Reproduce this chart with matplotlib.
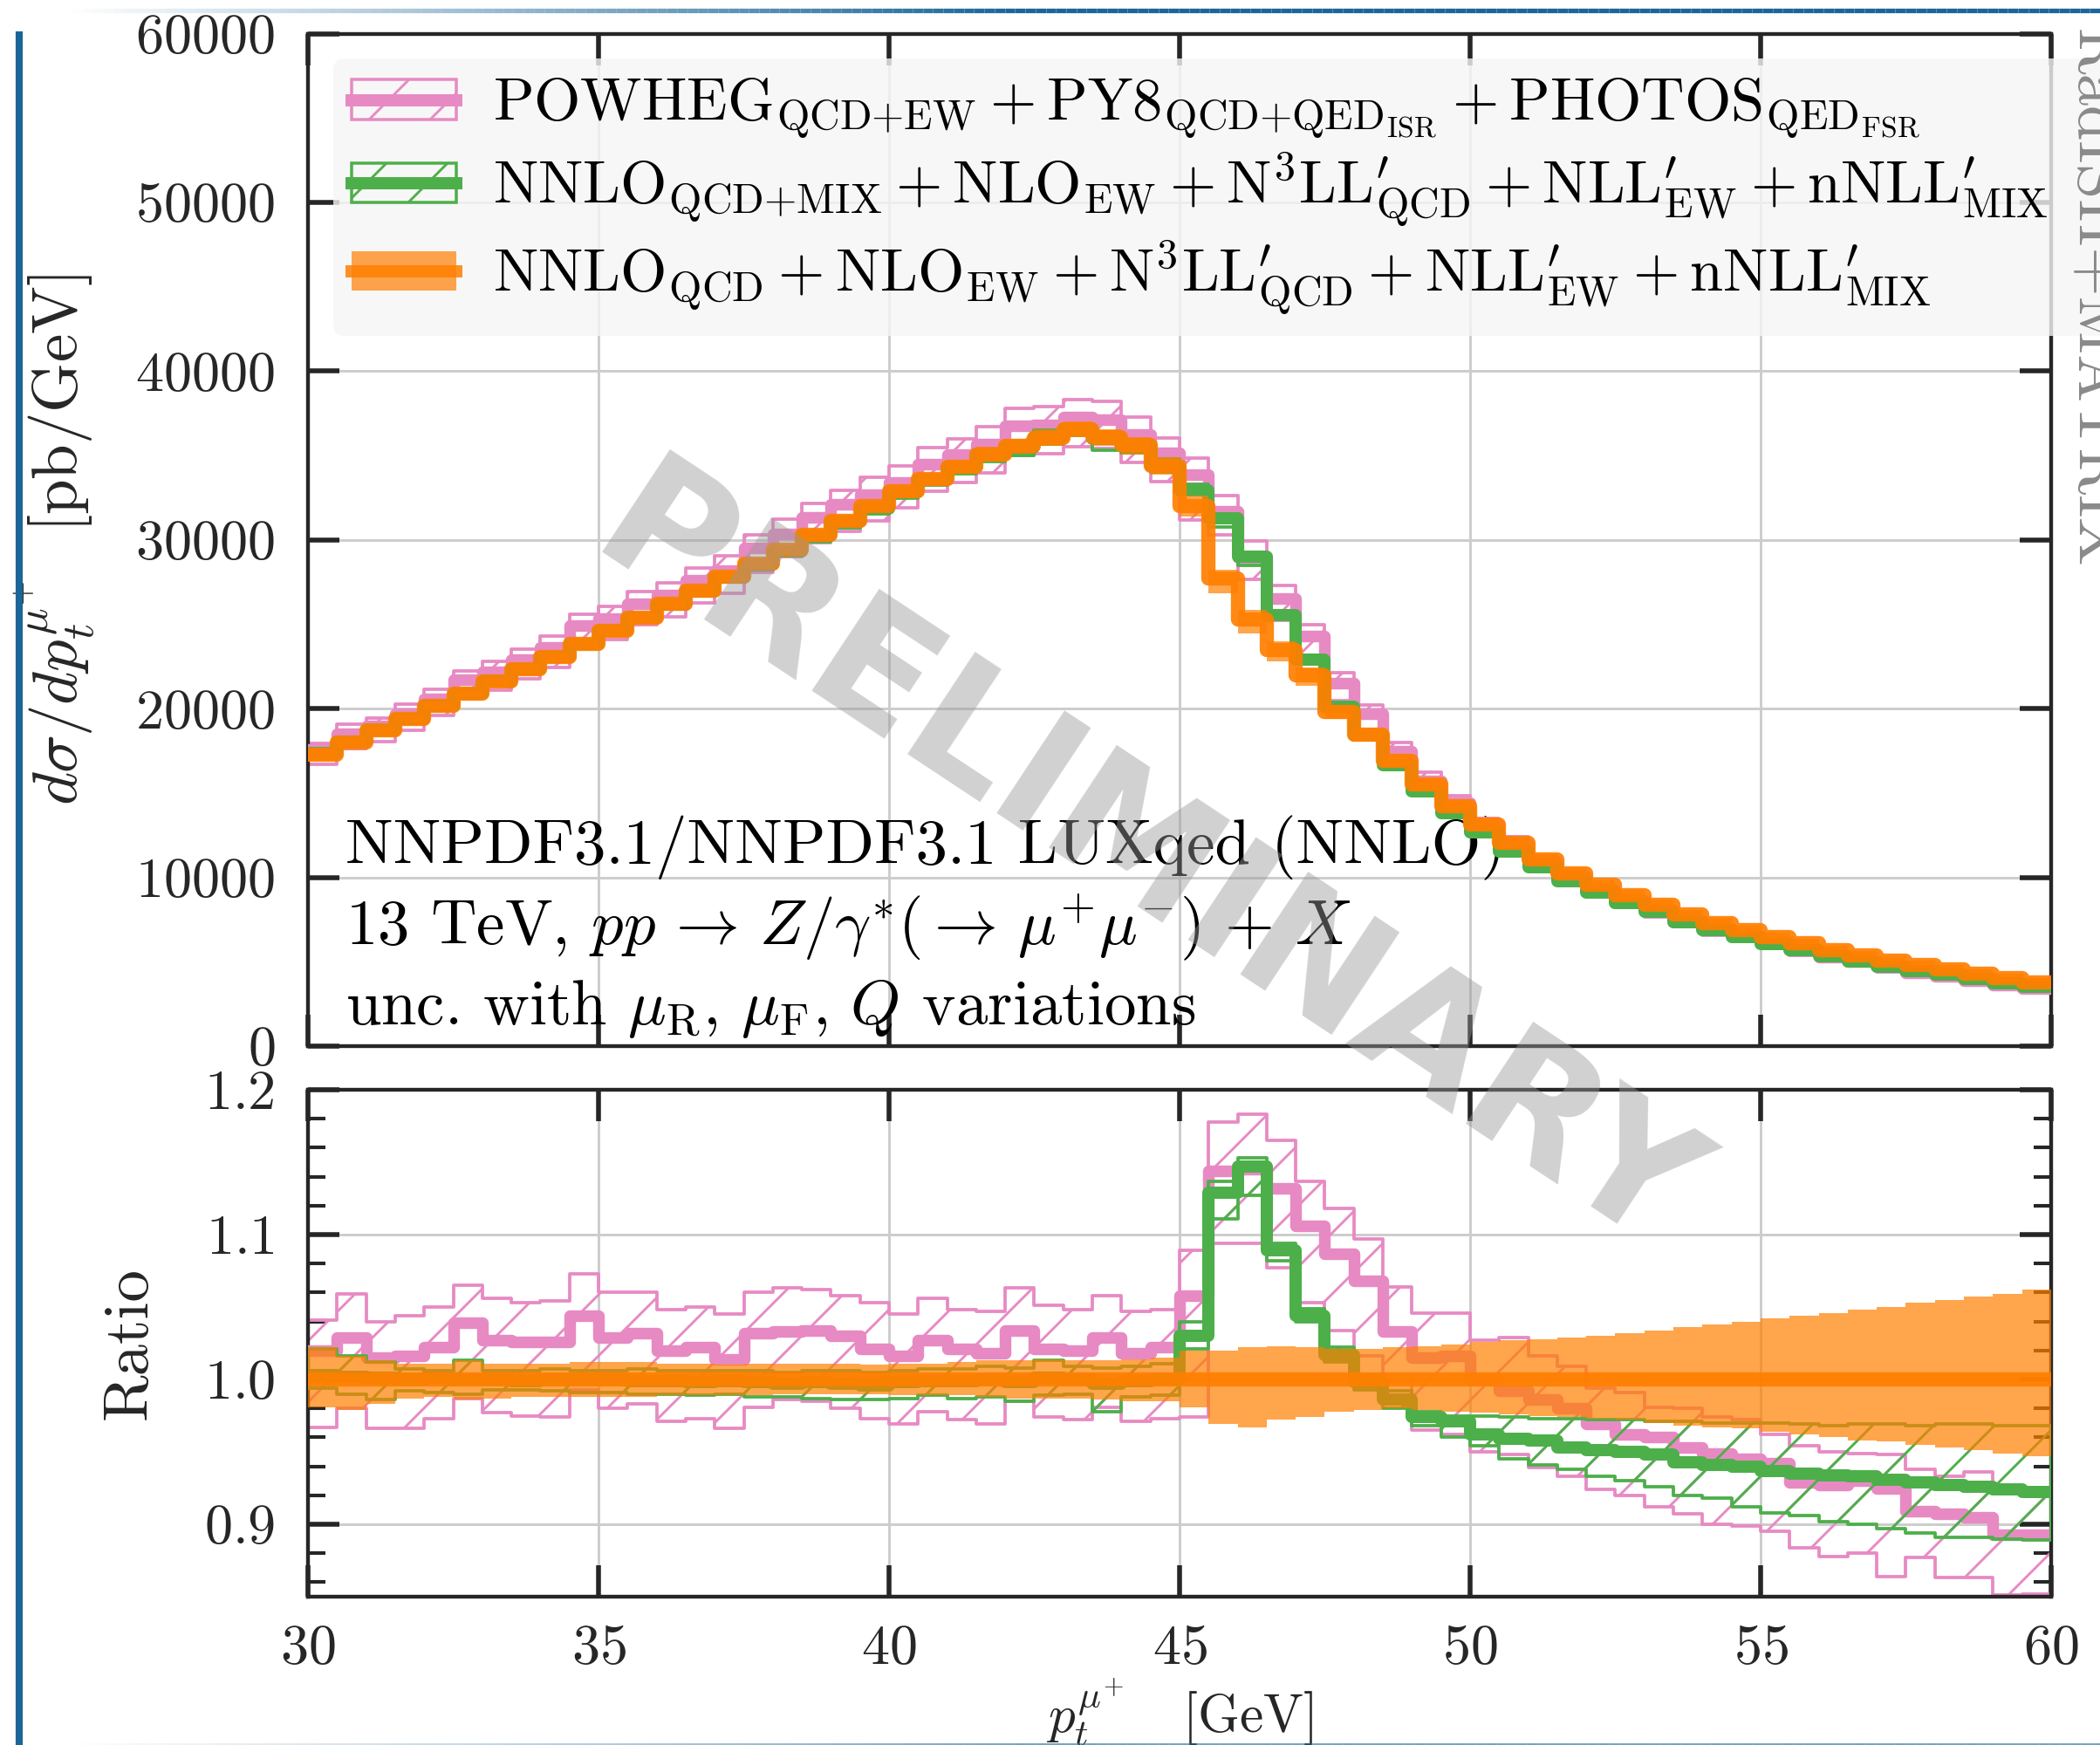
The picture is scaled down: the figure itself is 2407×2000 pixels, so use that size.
import numpy as np
import matplotlib
matplotlib.use("Agg")
import matplotlib.pyplot as plt
from matplotlib.patches import Patch
from matplotlib.lines import Line2D
from matplotlib.collections import LineCollection
from matplotlib.ticker import MultipleLocator

W, H, DPI = 2407, 2000, 210

plt.rcParams.update({
    "font.family": "serif",
    "font.serif": ["cmr10"],
    "mathtext.fontset": "cm",
    "axes.formatter.use_mathtext": True,
    "hatch.linewidth": 1.0,
})

# ---------------------------------------------------------------- data
# p_t bins [GeV]
edges = np.arange(30.0, 60.01, 0.5)

# NNLO_QCD + NLO_EW + N3LL' central prediction [pb/GeV]
orange_xsec = [
    17250, 18000, 18700, 19400, 20150, 20900, 21600, 22350, 23050, 23850,
    24600, 25400, 26200, 27000, 27800, 28600, 29400, 30300, 31150, 32000,
    32900, 33600, 34350, 35050, 35550, 36050, 36550, 36100, 35600, 34400,
    32000, 27700, 25300, 23450, 21950, 19800, 18450, 16900, 15500, 14200,
    13150, 12050, 11050, 10250, 9550, 8950, 8400, 7800, 7300, 6880,
    6450, 6100, 5700, 5400, 5080, 4800, 4550, 4300, 4050, 3800,
]
# scale-variation band of the reference prediction (ratio to its central value)
orange_hi = [
    1.022, 1.016, 1.013, 1.011, 1.011, 1.013, 1.011, 1.011, 1.011, 1.012,
    1.012, 1.012, 1.011, 1.011, 1.010, 1.011, 1.011, 1.011, 1.011, 1.010,
    1.011, 1.011, 1.012, 1.013, 1.013, 1.014, 1.013, 1.013, 1.014, 1.015,
    1.020, 1.020, 1.022, 1.023, 1.022, 1.021, 1.021, 1.022, 1.023, 1.024,
    1.026, 1.027, 1.028, 1.029, 1.030, 1.032, 1.034, 1.036, 1.038, 1.040,
    1.042, 1.044, 1.046, 1.048, 1.050, 1.053, 1.055, 1.057, 1.059, 1.062,
]
orange_lo = [
    0.981, 0.979, 0.983, 0.987, 0.988, 0.986, 0.987, 0.988, 0.988, 0.988,
    0.988, 0.988, 0.989, 0.989, 0.989, 0.989, 0.990, 0.990, 0.990, 0.990,
    0.989, 0.989, 0.989, 0.988, 0.987, 0.987, 0.987, 0.986, 0.985, 0.985,
    0.981, 0.969, 0.967, 0.972, 0.974, 0.978, 0.979, 0.980, 0.979, 0.978,
    0.977, 0.976, 0.975, 0.974, 0.973, 0.972, 0.970, 0.968, 0.967, 0.966,
    0.964, 0.962, 0.960, 0.958, 0.957, 0.955, 0.953, 0.951, 0.949, 0.947,
]

# NNLO_QCD+MIX prediction, ratio to the reference
green_c = [
    1.003, 1.002, 1.001, 1.000, 1.001, 1.000, 1.000, 0.999, 1.000, 1.000,
    1.000, 0.999, 0.999, 0.998, 0.999, 0.998, 0.997, 0.998, 0.997, 0.996,
    0.998, 0.999, 0.999, 1.000, 0.998, 1.001, 1.000, 0.997, 0.999, 1.000,
    1.030, 1.129, 1.147, 1.089, 1.044, 1.017, 0.998, 0.986, 0.974, 0.971,
    0.962, 0.959, 0.958, 0.953, 0.951, 0.950, 0.948, 0.943, 0.941, 0.940,
    0.937, 0.935, 0.934, 0.933, 0.931, 0.929, 0.927, 0.926, 0.924, 0.922,
]
green_hi = [
    1.021, 1.016, 1.012, 1.007, 1.006, 1.013, 1.006, 1.006, 1.007, 1.006,
    1.006, 1.007, 1.006, 1.006, 1.006, 1.006, 1.005, 1.006, 1.006, 1.005,
    1.006, 1.007, 1.007, 1.009, 1.008, 1.013, 1.009, 1.008, 1.009, 1.011,
    1.040, 1.137, 1.153, 1.094, 1.049, 1.022, 1.003, 0.992, 0.978, 0.975,
    0.975, 0.974, 0.973, 0.973, 0.972, 0.972, 0.971, 0.971, 0.970, 0.970,
    0.970, 0.969, 0.968, 0.969, 0.969, 0.968, 0.969, 0.969, 0.968, 0.968,
]
green_lo = [
    0.994, 0.990, 0.986, 0.992, 0.991, 0.990, 0.993, 0.993, 0.992, 0.991,
    0.991, 0.990, 0.990, 0.989, 0.990, 0.988, 0.988, 0.987, 0.986, 0.986,
    0.987, 0.989, 0.987, 0.988, 0.985, 0.989, 0.990, 0.978, 0.988, 0.989,
    1.021, 1.111, 1.127, 1.082, 1.040, 1.012, 0.993, 0.980, 0.968, 0.960,
    0.954, 0.945, 0.941, 0.938, 0.933, 0.930, 0.926, 0.920, 0.918, 0.912,
    0.908, 0.906, 0.902, 0.900, 0.897, 0.894, 0.891, 0.891, 0.890, 0.889,
]

# POWHEG+PY8+PHOTOS prediction, ratio to the reference
pink_c = [
    1.020, 1.029, 1.015, 1.016, 1.022, 1.039, 1.027, 1.026, 1.026, 1.044,
    1.029, 1.032, 1.020, 1.022, 1.014, 1.032, 1.033, 1.034, 1.030, 1.021,
    1.016, 1.027, 1.021, 1.018, 1.034, 1.021, 1.020, 1.029, 1.018, 1.022,
    1.058, 1.144, 1.145, 1.132, 1.106, 1.087, 1.068, 1.033, 1.015, 1.016,
    1.000, 0.992, 0.986, 0.980, 0.969, 0.962, 0.960, 0.953, 0.949, 0.945,
    0.942, 0.929, 0.927, 0.930, 0.925, 0.909, 0.907, 0.905, 0.893, 0.893,
]
pink_hi = [
    1.041, 1.059, 1.040, 1.044, 1.050, 1.065, 1.056, 1.053, 1.054, 1.073,
    1.060, 1.060, 1.048, 1.050, 1.045, 1.060, 1.063, 1.062, 1.058, 1.053,
    1.045, 1.056, 1.048, 1.047, 1.063, 1.051, 1.048, 1.058, 1.047, 1.048,
    1.089, 1.178, 1.183, 1.165, 1.137, 1.118, 1.097, 1.064, 1.046, 1.046,
    1.027, 1.029, 1.016, 1.009, 0.994, 0.991, 0.981, 0.980, 0.974, 0.972,
    0.962, 0.954, 0.950, 0.949, 0.948, 0.938, 0.933, 0.936, 0.923, 0.920,
]
pink_lo = [
    0.967, 0.980, 0.966, 0.966, 0.973, 0.987, 0.977, 0.975, 0.974, 0.993,
    0.980, 0.983, 0.971, 0.973, 0.966, 0.981, 0.986, 0.985, 0.980, 0.973,
    0.969, 0.978, 0.972, 0.969, 0.985, 0.974, 0.972, 0.981, 0.971, 0.973,
    0.974, 1.094, 1.094, 1.077, 1.053, 1.034, 1.016, 1.000, 0.965, 0.962,
    0.950, 0.948, 0.939, 0.933, 0.924, 0.920, 0.912, 0.907, 0.900, 0.899,
    0.895, 0.884, 0.878, 0.880, 0.864, 0.877, 0.863, 0.863, 0.851, 0.852,
]

labels = [
    r"$\mathrm{POWHEG}_{\mathrm{QCD{+}EW}}+\mathrm{PY8}_{\mathrm{QCD{+}QED_{ISR}}}"
    r"+\mathrm{PHOTOS}_{\mathrm{QED_{FSR}}}$",
    r"$\mathrm{NNLO}_{\mathrm{QCD{+}MIX}}+\mathrm{NLO}_{\mathrm{EW}}"
    r"+\mathrm{N}^{3}\mathrm{LL}^{\prime}_{\mathrm{QCD}}"
    r"+\mathrm{NLL}^{\prime}_{\mathrm{EW}}+\mathrm{nNLL}^{\prime}_{\mathrm{MIX}}$",
    r"$\mathrm{NNLO}_{\mathrm{QCD}}+\mathrm{NLO}_{\mathrm{EW}}"
    r"+\mathrm{N}^{3}\mathrm{LL}^{\prime}_{\mathrm{QCD}}"
    r"+\mathrm{NLL}^{\prime}_{\mathrm{EW}}+\mathrm{nNLL}^{\prime}_{\mathrm{MIX}}$",
]
info_lines = [
    "NNPDF3.1/NNPDF3.1 LUXqed (NNLO)",
    r"13 TeV, $pp\,\rightarrow\,Z/\gamma^{*}(\rightarrow\,\mu^{+}\mu^{-})\,+\,X$",
    r"unc. with $\mu_{\mathrm{R}},\,\mu_{\mathrm{F}},\,Q$ variations",
]

PINK, GREEN, ORANGE = "#e78ac3", "#4daf4a", "#ff7f00"
INK = "#262626"
FS_TICK = 22
FS_TEXT = 25


def steps(vals):
    xs = np.repeat(edges, 2)[1:-1]
    ys = np.repeat(np.asarray(vals, float), 2)
    return xs, ys


def draw_panel(ax, norm):
    norm = np.asarray(norm, float)
    x, _ = steps(norm)

    def s(v):
        return steps(np.asarray(v, float) * norm)[1]

    ax.fill_between(x, s(pink_lo), s(pink_hi), facecolor="none",
                    edgecolor=PINK, hatch="/", lw=1.3, zorder=2)
    ax.plot(x, s(pink_c), color=PINK, lw=4.6, zorder=3)
    ax.fill_between(x, s(green_lo), s(green_hi), facecolor="none",
                    edgecolor=GREEN, hatch="/", lw=1.3, zorder=4)
    ax.plot(x, s(green_c), color=GREEN, lw=4.8, zorder=5)
    ax.fill_between(x, s(orange_lo), s(orange_hi), facecolor=ORANGE,
                    edgecolor="none", lw=0, alpha=0.7, zorder=6)
    ax.plot(x, s(np.ones(len(norm))), color=ORANGE, lw=5.6, alpha=0.92,
            zorder=7)


def style(ax):
    ax.set_xlim(30, 60)
    ax.xaxis.set_major_locator(MultipleLocator(5))
    ax.grid(True, which="major", color="#cccccc", lw=1.0)
    ax.set_axisbelow(True)
    for sp in ax.spines.values():
        sp.set_linewidth(1.5)
        sp.set_color(INK)
    ax.tick_params(which="major", direction="in", length=12.5, width=1.9,
                   top=True, right=True, labelsize=FS_TICK, pad=13,
                   color=INK, labelcolor=INK)
    ax.tick_params(axis="x", which="major", pad=11)
    ax.tick_params(which="minor", direction="in", length=7, width=1.4,
                   top=True, right=True, color=INK)


fig = plt.figure(figsize=(W / DPI, H / DPI), dpi=DPI)
L, R = 353 / W, 2351 / W
ax1 = fig.add_axes([L, 1 - 1199 / H, R - L, (1199 - 38.6) / H])
ax2 = fig.add_axes([L, 1 - 1830 / H, R - L, (1830 - 1249) / H])

draw_panel(ax1, orange_xsec)
draw_panel(ax2, np.ones(len(orange_xsec)))

style(ax1)
ax1.set_ylim(0, 60000)
ax1.yaxis.set_major_locator(MultipleLocator(10000))
ax1.tick_params(labelbottom=False)
ax1.set_ylabel(r"$d\sigma/dp_t^{\mu^{+}}$  [pb/GeV]", fontsize=25, color=INK)
ax1.yaxis.set_label_coords(-0.121, 0.5)

style(ax2)
ax2.set_ylim(0.85, 1.2)
ax2.set_yticks([0.9, 1.0, 1.1, 1.2])
ax2.yaxis.set_minor_locator(MultipleLocator(0.02))
ax2.set_ylabel("Ratio", fontsize=25, color=INK)
ax2.yaxis.set_label_coords(-0.086, 0.5)
ax2.set_xlabel(r"$p_t^{\mu^{+}}$   [GeV]", fontsize=21, color=INK)
ax2.xaxis.set_label_coords(0.5, -0.157)

# process / setup description
for txt, ypx in zip(info_lines, [990, 1082, 1174]):
    ax1.text(396 / W, 1 - ypx / H, txt, transform=fig.transFigure,
             fontsize=FS_TEXT, color="black", va="baseline", ha="left",
             zorder=1)

# legend
handles = [
    (Patch(facecolor="none", edgecolor=PINK, hatch="/", lw=1.2),
     Line2D([], [], color=PINK, lw=4.8)),
    (Patch(facecolor="none", edgecolor=GREEN, hatch="/", lw=1.2),
     Line2D([], [], color=GREEN, lw=4.8)),
    (Patch(facecolor=ORANGE, edgecolor="none", alpha=0.7),
     Line2D([], [], color=ORANGE, lw=4.8, alpha=0.85)),
]
leg = ax1.legend(handles, labels, loc="upper left", mode="expand",
                 bbox_to_anchor=(382 / W, 1 - 67 / H, (2425 - 382) / W, 0),
                 bbox_transform=fig.transFigure, borderaxespad=0,
                 fontsize=23.5, frameon=True, fancybox=True,
                 facecolor="#f5f5f5", edgecolor="none", framealpha=0.8,
                 handlelength=1.75, handleheight=0.65, handletextpad=0.62,
                 labelspacing=0.15, borderpad=0.3)
leg.set_zorder(10)

# watermark and generator tag
fig.text(1312 / W, 1 - 992 / H, "PRELIMINARY", rotation=-33.5,
         ha="center", va="center", fontsize=66, fontweight="bold",
         family="DejaVu Sans", color="0.6", alpha=0.45, zorder=20)
fig.text(2366 / W, 1 - 33 / H, "RadISH+MATRIX", rotation=-90,
         ha="left", va="top", fontsize=25, color="#8a8a8a", zorder=20)

# page frame lines
BLUE = "#1b6699"
fig.add_artist(Line2D([22 / W, 22 / W], [0, 1 - 40 / H], color=BLUE,
                      lw=2.8, transform=fig.transFigure))
xs = np.linspace(0.03, 1.0, 200)
segs = [[(xs[i], 1 - 12 / H), (xs[i + 1], 1 - 12 / H)] for i in range(len(xs) - 1)]
alphas = np.clip((xs[:-1] - 0.03) / 0.45, 0, 1)
cols = [(0.106, 0.4, 0.6, a) for a in alphas]
fig.add_artist(LineCollection(segs, colors=cols, linewidths=1.8,
                              transform=fig.transFigure))
segs_b = [[(xs[i], 1.5 / H), (xs[i + 1], 1.5 / H)] for i in range(len(xs) - 1)]
cols_b = [(0.106, 0.4, 0.6, 0.6 * a) for a in alphas]
fig.add_artist(LineCollection(segs_b, colors=cols_b, linewidths=1.0,
                              transform=fig.transFigure))

fig.savefig("out.png", dpi=DPI)
